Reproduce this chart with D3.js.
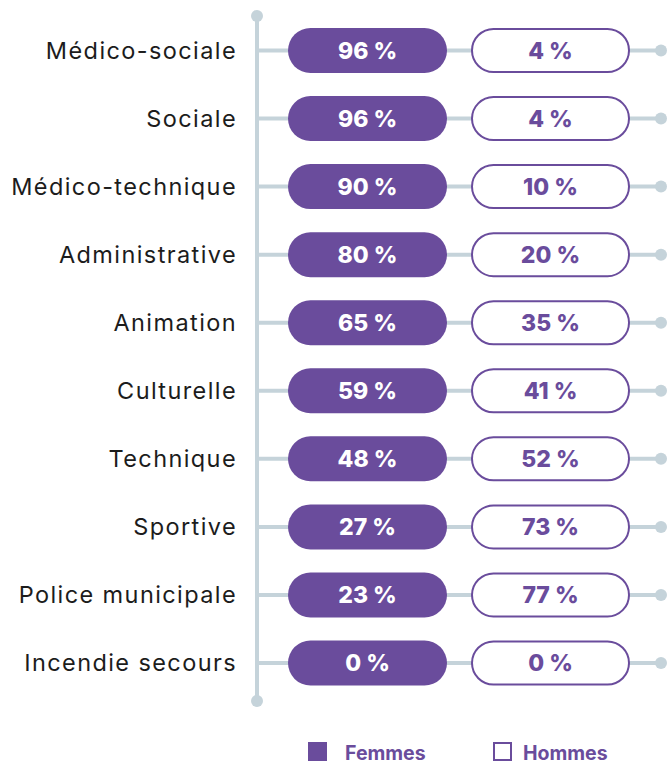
<!DOCTYPE html>
<html>
<head>
<meta charset="utf-8">
<script src="https://cdn.jsdelivr.net/npm/d3@7"></script>
<style>
  body { margin: 0; background: #fff; }
  svg { display: block; }
</style>
</head>
<body>
<script>
const width = 669;
const height = 764;

const categories = ["Médico-sociale", "Sociale", "Médico-technique", "Administrative", "Animation",
  "Culturelle", "Technique", "Sportive", "Police municipale", "Incendie secours"];
const femmes = [96, 96, 90, 80, 65, 59, 48, 27, 23, 0];
const hommes = [4, 4, 10, 20, 35, 41, 52, 73, 77, 0];
const seriesNames = ["Femmes", "Hommes"];

const purple = "#6a4c9c";
const grey = "#c5d3da";

const rows = categories.map((c, i) => ({ cat: c, f: femmes[i], h: hommes[i] }));

const y = d3.scaleBand().domain(categories).range([14.4, 699.1]).paddingInner(0.339).paddingOuter(0.2);
const x = d3.scaleLinear().domain([0, 1]).range([257, 661]);

const svg = d3.select("body").append("svg")
  .attr("width", width)
  .attr("height", height);

const font = "Inter, 'Noto Sans', sans-serif";

// axis line
svg.append("line")
  .attr("x1", x(0)).attr("x2", x(0))
  .attr("y1", 16).attr("y2", 701)
  .attr("stroke", grey).attr("stroke-width", 4);
svg.selectAll("circle.end")
  .data([16, 701])
  .join("circle")
  .attr("cx", x(0)).attr("cy", d => d).attr("r", 6).attr("fill", grey);

const pillW = 159;
const pillH = y.bandwidth();
const fX = 288, hX = 471;

const g = svg.selectAll("g.row")
  .data(rows)
  .join("g")
  .attr("transform", d => `translate(0,${y(d.cat) + pillH / 2})`);

g.append("line")
  .attr("x1", x(0)).attr("x2", x(1))
  .attr("stroke", grey).attr("stroke-width", 4);
g.append("circle")
  .attr("cx", x(1)).attr("r", 6).attr("fill", grey);

g.append("rect")
  .attr("x", fX).attr("y", -pillH / 2)
  .attr("width", pillW).attr("height", pillH)
  .attr("rx", pillH / 2)
  .attr("fill", purple);
g.append("rect")
  .attr("x", hX + 1).attr("y", -pillH / 2 + 1)
  .attr("width", pillW - 2).attr("height", pillH - 2)
  .attr("rx", pillH / 2 - 1)
  .attr("fill", "#fff").attr("stroke", purple).attr("stroke-width", 2);

g.append("text")
  .attr("x", fX + pillW / 2).attr("dy", "0.36em")
  .attr("text-anchor", "middle")
  .attr("font-family", font).attr("font-weight", 800).attr("font-size", 23)
  .attr("fill", "#fff")
  .text(d => `${d.f} %`);
g.append("text")
  .attr("x", hX + pillW / 2).attr("dy", "0.36em")
  .attr("text-anchor", "middle")
  .attr("font-family", font).attr("font-weight", 800).attr("font-size", 23)
  .attr("fill", purple)
  .text(d => `${d.h} %`);

g.append("text")
  .attr("x", 237).attr("dy", "0.36em")
  .attr("text-anchor", "end")
  .attr("font-family", font).attr("font-size", 23.5)
  .attr("letter-spacing", 1.4)
  .attr("fill", "#1c1c1c")
  .text(d => d.cat);

// legend
const legend = svg.selectAll("g.legend")
  .data(seriesNames)
  .join("g")
  .attr("transform", (d, i) => `translate(${[308, 493][i]},742)`);
legend.append("rect")
  .attr("x", (d, i) => i ? 1 : 0).attr("y", (d, i) => i ? 1 : 0)
  .attr("width", (d, i) => i ? 17 : 19).attr("height", (d, i) => i ? 17 : 19)
  .attr("fill", (d, i) => i ? "#fff" : purple)
  .attr("stroke", purple).attr("stroke-width", (d, i) => i ? 2 : 0);
legend.append("text")
  .attr("x", (d, i) => i ? 30 : 37).attr("y", 17.5)
  .attr("font-family", font).attr("font-weight", 700).attr("font-size", 19.5)
  .attr("fill", purple)
  .text(d => d);
</script>
</body>
</html>
